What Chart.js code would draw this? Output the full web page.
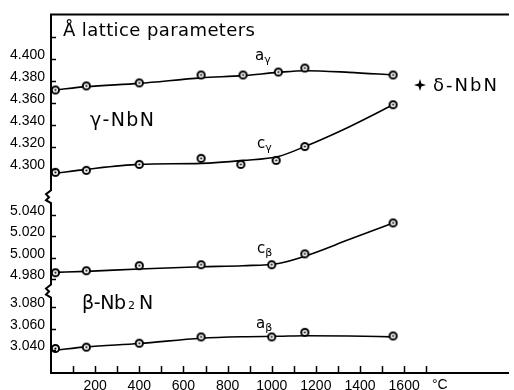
<!DOCTYPE html>
<html>
<head>
<meta charset="utf-8">
<script src="https://cdn.jsdelivr.net/npm/chart.js@4"></script>
<style>
  html, body { margin: 0; padding: 0; background: #fff; }
  #wrap { width: 514px; height: 390px; }
</style>
</head>
<body>
<div id="wrap"><canvas id="lattice"></canvas></div>
<script>
// measuring temperatures, °C
const tempsGammaA = [20, 160, 400, 680, 870, 1030, 1150, 1550];
const tempsGammaC = [20, 160, 400, 680, 860, 1020, 1150, 1550];
const tempsBeta = [20, 160, 400, 680, 1000, 1150, 1550];

// measured lattice parameters, Å
const aGamma = [4.372, 4.3757, 4.3784, 4.3856, 4.3856, 4.3883, 4.3919, 4.3856];
const cGamma = [4.2973, 4.2991, 4.3045, 4.310, 4.3045, 4.3081, 4.3207, 4.3586];
const cBeta = [4.986, 4.9879, 4.9926, 4.9935, 4.9935, 5.0037, 5.0326];
const aBeta = [3.0416, 3.0428, 3.0465, 3.0524, 3.0524, 3.0567, 3.0533];

// the drawn curves
const fitTemps = [20, 160, 400, 680, 870, 1030, 1150, 1350, 1550];
const aGammaFit = [4.372, 4.375, 4.378, 4.383, 4.385, 4.388, 4.3895, 4.388, 4.3856];
const cGammaFit = [4.2964, 4.300, 4.3045, 4.3054, 4.3081, 4.3117, 4.3207, 4.3385, 4.3586];
const cBetaFit = [4.9863, 4.9873, 4.9895, 4.9916, 4.9926, 4.9947, 5.0015, 5.017, 5.0326];
const aBetaFit = [3.040, 3.0431, 3.0462, 3.0512, 3.0526, 3.053, 3.0535, 3.0533, 3.0524];

// ticks
const xTicks = [100, 200, 300, 400, 500, 600, 700, 800, 900, 1000, 1100, 1200, 1300, 1400, 1500, 1600, 1700];
const xLabels = [200, 400, 600, 800, 1000, 1200, 1400, 1600];
const gammaTicks = [4.300, 4.320, 4.340, 4.360, 4.380, 4.400, 4.420];
const gammaLabels = [4.300, 4.320, 4.340, 4.360, 4.380, 4.400];
const cBetaTicks = [4.980, 5.000, 5.020, 5.040];
const aBetaTicks = [3.040, 3.060, 3.080];

const family = '"Liberation Sans", Arial, sans-serif';
const textFamily = '"DejaVu Sans", sans-serif';
const tickFont = { family, size: 14 };

// circle with a dot in the middle
const marker = document.createElement('canvas');
marker.width = marker.height = 11;
(() => {
  const g = marker.getContext('2d');
  g.beginPath(); g.arc(5.5, 5.5, 3.6, 0, Math.PI * 2);
  g.fillStyle = '#fff'; g.fill();
  g.lineWidth = 2; g.strokeStyle = '#000'; g.stroke();
  g.beginPath(); g.arc(5.5, 5.5, 1.1, 0, Math.PI * 2);
  g.fillStyle = '#000'; g.fill();
})();

const pts = (xs, ys) => xs.map((x, i) => ({ x, y: ys[i] }));

const pointSet = (xs, ys, axis) => ({
  data: pts(xs, ys), yAxisID: axis, showLine: false,
  pointStyle: marker, pointRadius: 4, order: 0
});
const curveSet = (ys, axis) => ({
  data: pts(fitTemps, ys), yAxisID: axis, pointRadius: 0,
  borderColor: '#000', borderWidth: 1.6, cubicInterpolationMode: 'monotone', order: 1
});

const yScale = (min, max, weight, ticks, labelled) => ({
  type: 'linear', position: 'left', stack: 'lat', stackWeight: weight,
  min, max, offset: false,
  grid: { display: false, drawTicks: false },
  border: { display: false },
  afterBuildTicks: s => { s.ticks = ticks.map(v => ({ value: v })); },
  afterFit: s => { s.width = 51; },
  ticks: {
    padding: 6, labelOffset: -4, color: '#000', font: tickFont, autoSkip: false,
    callback: v => labelled.some(l => Math.abs(l - v) < 1e-6) ? v.toFixed(3) : ''
  }
});

function spaced(ctx, str, x, y, width) {
  ctx.letterSpacing = '0px';
  const natural = ctx.measureText(str).width;
  const n = [...str].length - 1;
  ctx.letterSpacing = ((width - natural) / Math.max(n, 1)) + 'px';
  ctx.fillText(str, x, y);
  ctx.letterSpacing = '0px';
}

function subLabel(ctx, main, sub, x, y) {
  ctx.font = '15px ' + textFamily;
  ctx.fillText(main, x, y);
  const w = ctx.measureText(main).width;
  ctx.font = '11px ' + textFamily;
  ctx.fillText(sub, x + w, y + 3);
}

const decor = {
  id: 'decor',
  afterDraw(chart) {
    const { ctx, chartArea: a, scales } = chart;
    ctx.save();
    ctx.strokeStyle = '#000';
    ctx.fillStyle = '#000';
    ctx.lineCap = 'butt';

    // frame: top line, bottom axis
    ctx.lineWidth = 2;
    ctx.beginPath();
    ctx.moveTo(a.left - 1, a.top); ctx.lineTo(a.right, a.top);
    ctx.moveTo(a.left - 1, a.bottom); ctx.lineTo(a.right, a.bottom);
    ctx.stroke();

    // left axis, broken twice
    const x = a.left;
    ctx.beginPath();
    ctx.moveTo(x, a.top);
    for (const b of [scales.yTop.bottom, scales.yMid.bottom]) {
      ctx.lineTo(x, b - 7);
      ctx.lineTo(x - 5, b - 3);
      ctx.lineTo(x - 2, b);
      ctx.lineTo(x - 5, b + 3);
      ctx.lineTo(x, b + 6);
    }
    ctx.lineTo(x, a.bottom);
    ctx.stroke();

    // inward tick marks
    ctx.lineWidth = 1.5;
    ctx.beginPath();
    for (const id of ['yTop', 'yMid', 'yBot']) {
      const s = scales[id];
      for (const t of s.ticks) {
        const py = Math.round(s.getPixelForValue(t.value)) + 0.5;
        ctx.moveTo(x, py); ctx.lineTo(x + 5, py);
      }
    }
    for (const t of scales.x.ticks) {
      const px = Math.round(scales.x.getPixelForValue(t.value)) + 0.5;
      ctx.moveTo(px, a.bottom); ctx.lineTo(px, a.bottom - 7);
    }
    ctx.stroke();

    // texts
    ctx.textBaseline = 'alphabetic';
    ctx.textAlign = 'left';
    ctx.font = '18px ' + textFamily;
    spaced(ctx, 'Å lattice parameters', 63, 36, 192);

    ctx.font = '19px ' + textFamily;
    spaced(ctx, 'γ-NbN', 90, 126, 64);
    spaced(ctx, 'β-Nb', 82, 309, 44);
    ctx.font = '11px ' + textFamily;
    ctx.fillText('2', 128, 309);
    ctx.font = '19px ' + textFamily;
    ctx.fillText('N', 139, 309);

    ctx.font = '18px ' + textFamily;
    spaced(ctx, 'δ-NbN', 433, 91, 64);

    // four-pointed star
    const cx = 420, cy = 85, R = 6, r = 2;
    ctx.beginPath();
    for (let i = 0; i < 8; i++) {
      const ang = i * Math.PI / 4 - Math.PI / 2;
      const rad = i % 2 ? r : R;
      ctx.lineTo(cx + rad * Math.cos(ang), cy + rad * Math.sin(ang));
    }
    ctx.closePath();
    ctx.fill();

    subLabel(ctx, 'a', 'γ', 255, 60);
    subLabel(ctx, 'c', 'γ', 257, 148);
    subLabel(ctx, 'c', 'β', 257, 253);
    subLabel(ctx, 'a', 'β', 256, 328);

    ctx.font = '14px ' + family;
    ctx.fillText('°C', 432, 389);
    ctx.restore();
  }
};

const chart = new Chart(document.getElementById('lattice'), {
  type: 'line',
  data: {
    datasets: [
      pointSet(tempsGammaA, aGamma, 'yTop'),
      pointSet(tempsGammaC, cGamma, 'yTop'),
      pointSet(tempsBeta, cBeta, 'yMid'),
      pointSet(tempsBeta, aBeta, 'yBot'),
      curveSet(aGammaFit, 'yTop'),
      curveSet(cGammaFit, 'yTop'),
      curveSet(cBetaFit, 'yMid'),
      curveSet(aBetaFit, 'yBot')
    ]
  },
  options: {
    responsive: true,
    maintainAspectRatio: false,
    animation: false,
    layout: { padding: { top: 12, right: 0, bottom: 0, left: 0 } },
    plugins: { legend: { display: false }, tooltip: { enabled: false } },
    scales: {
      x: {
        type: 'linear', min: 0, max: 2075,
        grid: { display: false, drawTicks: false },
        border: { display: false },
        afterBuildTicks: s => { s.ticks = xTicks.map(v => ({ value: v })); },
        afterFit: s => { s.height = 17; },
        ticks: {
          autoSkip: false, maxRotation: 0, padding: 5, color: '#000', font: tickFont,
          callback: v => xLabels.includes(v) ? String(v) : ''
        }
      },
      yBot: yScale(3.0186, 3.0949, 82, aBetaTicks, aBetaTicks),
      yMid: yScale(4.9684, 5.0567, 95, cBetaTicks, cBetaTicks),
      yTop: yScale(4.27476, 4.44055, 184, gammaTicks, gammaLabels)
    }
  },
  plugins: [decor]
});
</script>
</body>
</html>
